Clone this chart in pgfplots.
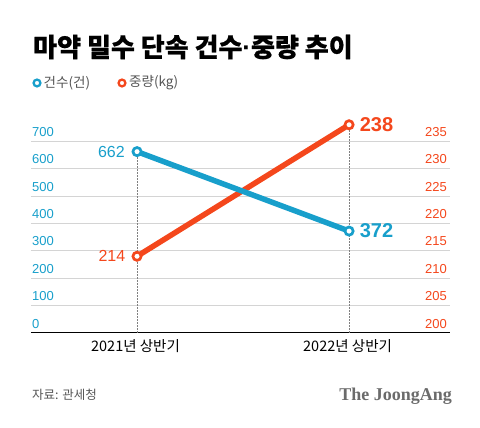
\documentclass[border=0pt]{standalone}
\usepackage{fontspec}
\setmainfont{Liberation Sans}
\newfontfamily\kr{Noto Sans CJK KR}
\newfontfamily\krt{Noto Sans CJK KR}[BoldFeatures={FakeBold=0.6}]
\newfontfamily\jserif{Liberation Serif}
\usepackage{pgfplots}
\pgfplotsset{compat=1.18}
\definecolor{cblue}{HTML}{189FCB}
\definecolor{corange}{HTML}{F4471C}
\definecolor{cgray}{HTML}{555555}
\definecolor{cgrid}{HTML}{D4D4D4}
\pgfplotsset{
  base/.style={
    at={(31pt,95pt)}, anchor=south west,
    scale only axis, width=419pt, height=219.2pt,
    xmin=-0.5, xmax=1.476,
    major tick length=0pt,
    clip=false,
    /pgf/number format/assume math mode=true,
  }
}
\begin{document}
\begin{tikzpicture}
\path[use as bounding box] (0pt,0pt) rectangle (480pt,428pt);
% title
\node[anchor=west, inner sep=0pt, font=\krt\bfseries\fontsize{26}{30}\selectfont] at (33pt,381pt) {마약 밀수 단속 건수{\normalfont\bfseries·}중량 추이};
% legend
\draw[cblue, line width=2.3pt, fill=white] (37pt,345pt) circle (3.4pt);
\node[anchor=west, inner sep=0pt, text=cgray, font=\kr\fontsize{13.5}{15}\selectfont] at (43.5pt,345pt) {건수(건)};
\draw[corange, line width=2.3pt, fill=white] (122pt,345pt) circle (3.4pt);
\node[anchor=west, inner sep=0pt, text=cgray, font=\kr\fontsize{13.5}{15}\selectfont] at (129pt,345pt) {중량(kg)};
% left axis: grid, ticks, baseline
\begin{axis}[base,
  ymin=0, ymax=800,
  axis x line*=bottom, axis y line*=left,
  x axis line style={-, black, line width=1pt},
  y axis line style={draw=none},
  xtick={0,1}, xticklabels={2021년 상반기,2022년 상반기},
  xticklabel style={font=\kr\fontsize{14.5}{16}\selectfont, text=black, inner sep=0pt, yshift=-6pt, xshift=-1.5pt},
  ytick={0,100,...,700},
  ymajorgrids, grid style={draw=cgrid, line width=1pt},
  yticklabel style={anchor=south west, inner sep=0pt, xshift=1pt, yshift=4.5pt, text=cblue, font=\fontsize{13}{15}\selectfont},
]
\draw[gray, line width=0.8pt, dash pattern=on 1.5pt off 1.5pt] (axis cs:0,0) -- (axis cs:0,662);
\end{axis}
% right axis: weight (kg)
\begin{axis}[base,
  ymin=200, ymax=240,
  axis x line=none, axis y line*=right,
  y axis line style={draw=none},
  ytick={200,205,...,235},
  yticklabel style={anchor=south east, inner sep=0pt, xshift=-3pt, yshift=4.5pt, text=corange, font=\fontsize{13}{15}\selectfont},
]
\draw[gray, line width=0.8pt, dash pattern=on 1.5pt off 1.5pt] (axis cs:1,200) -- (axis cs:1,238);
\addplot[corange, line width=5.5pt, mark=*, mark size=4.1pt, mark options={fill=white, draw=corange, line width=2.7pt}]
  coordinates {(0,214) (1,238)}
  node[pos=0, anchor=east, inner sep=0pt, xshift=-9pt, text=corange, font=\fontsize{16}{18}\selectfont] {214}
  node[pos=1, anchor=west, inner sep=0pt, xshift=8pt, text=corange, font=\bfseries\fontsize{20}{22}\selectfont] {238};
\end{axis}
% left axis again: counts (on top)
\begin{axis}[base,
  ymin=0, ymax=800,
  hide axis,
]
\addplot[cblue, line width=5.5pt, mark=*, mark size=4.1pt, mark options={fill=white, draw=cblue, line width=2.7pt}]
  coordinates {(0,662) (1,372)}
  node[pos=0, anchor=east, inner sep=0pt, xshift=-9.5pt, text=cblue, font=\fontsize{16}{18}\selectfont] {662}
  node[pos=1, anchor=west, inner sep=0pt, xshift=8pt, text=cblue, font=\bfseries\fontsize{20}{22}\selectfont] {372};
\end{axis}
% footer
\node[anchor=west, inner sep=0pt, text=cgray, font=\kr\fontsize{12.5}{14}\selectfont] at (32pt,33pt) {자료: 관세청};
\node[anchor=base east, inner sep=0pt, text=black!58, font=\jserif\bfseries\fontsize{18}{20}\selectfont] at (452pt,27.3pt) {The JoongAng};
\end{tikzpicture}
\end{document}
